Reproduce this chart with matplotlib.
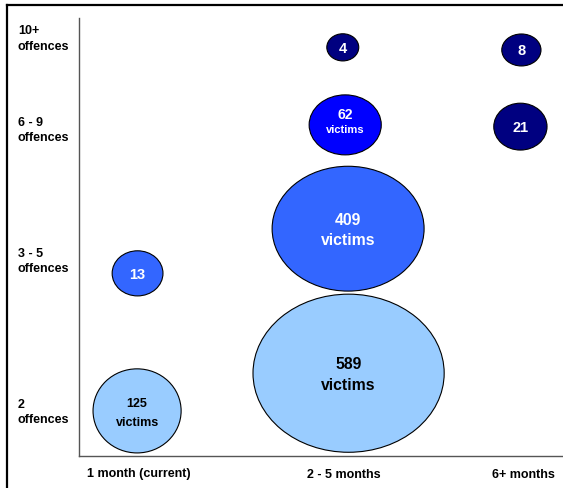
import matplotlib.pyplot as plt
from matplotlib.patches import Ellipse
from matplotlib.lines import Line2D

plt.rcParams['font.family'] = ['Liberation Sans', 'DejaVu Sans']
plt.rcParams['font.weight'] = 'bold'

# Axis categories and where they sit on the 0-100 scales
months = ['1 month (current)', '2 - 5 months', '6+ months']
month_pos = [12.4, 54.8, 91.8]
offences = ['2\noffences', '3 - 5\noffences', '6 - 9\noffences', '10+\noffences']
offence_pos = [10.7, 45.1, 75.0, 95.9]

# Bubbles: victim counts with centre and size
victims = [125, 13, 589, 409, 62, 4, 8, 21]
bubble_x = [12.0, 12.1, 55.7, 55.6, 55.0, 54.5, 91.4, 91.2]
bubble_y = [10.3, 41.7, 18.9, 51.9, 75.6, 93.3, 92.7, 75.2]
bubble_w = [18.2, 10.5, 39.5, 31.4, 14.9, 6.6, 8.1, 11.0]
bubble_h = [19.2, 10.3, 36.1, 28.5, 13.7, 6.2, 7.3, 10.7]
with_word = [True, False, True, True, True, False, False, False]

# Styling per bubble
fills = ['#99CCFF', '#3366FF', '#99CCFF', '#3366FF', '#0000FF', '#000080', '#000080', '#000080']
text_cols = ['black', 'white', 'black', 'white', 'white', 'white', 'white', 'white']
num_size = [9, 10.5, 11.3, 11.3, 10, 10.5, 10.5, 10.5]
word_size = [9, 0, 11.3, 11.3, 8, 0, 0, 0]
num_dy = [6.1, 0, 7.6, 7.2, 8.3, 0, 0, 0]     # points above centre
word_dy = [-7.6, 0, -7.6, -7.4, -3.2, 0, 0, 0]

fig = plt.figure(figsize=(5.63, 4.88), dpi=100)
ax = fig.add_axes([79 / 563, 32 / 488, 484 / 563, 438 / 488])
ax.set_xlim(0, 100)
ax.set_ylim(0, 100)

for i, v in enumerate(victims):
    ax.add_patch(Ellipse((bubble_x[i], bubble_y[i]), bubble_w[i], bubble_h[i],
                         facecolor=fills[i], edgecolor='black', linewidth=0.8))
    ax.annotate(str(v), (bubble_x[i], bubble_y[i]), xytext=(0, num_dy[i]),
                textcoords='offset points', ha='center', va='center_baseline',
                fontsize=num_size[i], fontweight='bold', color=text_cols[i])
    if with_word[i]:
        ax.annotate('victims', (bubble_x[i], bubble_y[i]), xytext=(0, word_dy[i]),
                    textcoords='offset points', ha='center', va='center_baseline',
                    fontsize=word_size[i], fontweight='bold', color=text_cols[i])

ax.set_xticks(month_pos)
ax.set_xticklabels(months, fontsize=9, fontweight='bold')
ax.set_yticks(offence_pos)
ax.set_yticklabels(offences, fontsize=9, fontweight='bold', ha='left', linespacing=1.35)
ax.tick_params(axis='x', length=0, pad=9)
ax.tick_params(axis='y', length=0, pad=44)

for side in ['top', 'right']:
    ax.spines[side].set_visible(False)
for side in ['left', 'bottom']:
    ax.spines[side].set_color('#555555')
    ax.spines[side].set_linewidth(1.0)

# Frame of the original slide, cropped at right and bottom
top = 1 - 5 / 488
left = 7 / 563
fig.add_artist(Line2D([left, 1], [top, top], color='black', linewidth=1.6))
fig.add_artist(Line2D([left, left], [0, top], color='black', linewidth=1.6))

fig.savefig('out.png', dpi=100)
